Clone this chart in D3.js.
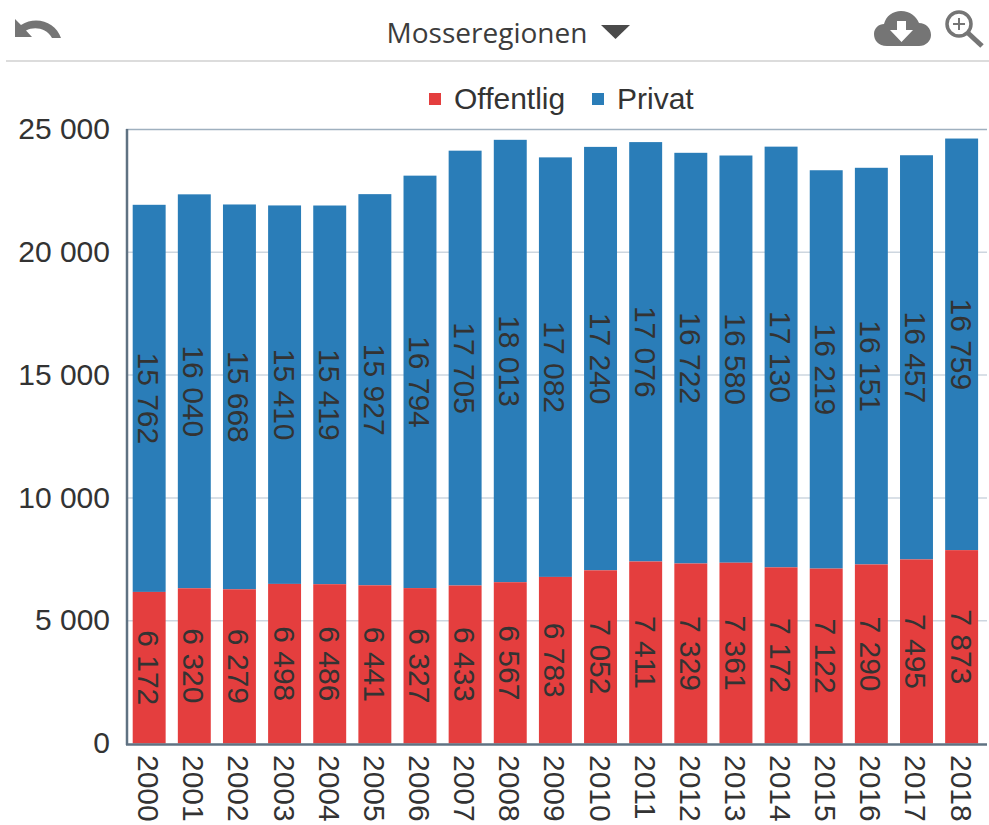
<!DOCTYPE html>
<html><head><meta charset="utf-8">
<script src="https://cdn.jsdelivr.net/npm/d3@7"></script>
<style>html,body{margin:0;padding:0;background:#fff}svg{display:block}text{font-family:"Liberation Sans",Arial,sans-serif}</style>
</head><body><div id="c"></div>
<script>
const years=["2000","2001","2002","2003","2004","2005","2006","2007","2008","2009","2010","2011","2012","2013","2014","2015","2016","2017","2018"];
const offentlig=[6172,6320,6279,6498,6486,6441,6327,6433,6567,6783,7052,7411,7329,7361,7172,7122,7290,7495,7873];
const privat=[15762,16040,15668,15410,15419,15927,16794,17705,18013,17082,17240,17076,16722,16580,17130,16219,16151,16457,16759];
const yTicks=[0,5000,10000,15000,20000,25000];
const title="Mosseregionen";
const seriesNames=["Offentlig","Privat"];
const seriesColors=["#e43e3e","#2a7db8"];

const W=989,H=825,ink="#333333";
const svg=d3.select("#c").append("svg").attr("width",W).attr("height",H);
const x=d3.scaleBand().domain(years).range([126.6,984.2]).paddingInner(0.27).paddingOuter(0.135);
const y=d3.scaleLinear().domain([0,25000]).range([743.5,129.5]);
const fmt=v=>d3.format(",")(v).replace(/,/g," ");

// toolbar
svg.append("path").attr("fill","#757575").attr("transform","translate(15,17)")
 .attr("d","M0 2 L0 20 L17 20 L11 13.5 C19 9.5 31 10.5 37 21 L46 21 C41 6 22 -2 6 8 Z");
svg.append("text").attr("x",487).attr("y",43).attr("text-anchor","middle")
 .attr("font-size",28).attr("fill","#3c3c3c").style("font-family","'Open Sans',sans-serif").text(title);
svg.append("path").attr("fill","#4a4a4a").attr("d","M601 25 L630 25 L615.5 39 Z");
// cloud download
svg.append("path").attr("fill","#757575")
 .attr("d","M887 46 C878 46 874 40 874 34 C874 28 879 24 884 24 C886 16 893 11 901 11 C910 11 916 16 919 23 C926 23 931 28 931 35 C931 41 926 46 919 46 Z");
svg.append("path").attr("fill","#fff").attr("d","M897 21 L906 21 L906 30 L913 30 L901.5 42 L890 30 L897 30 Z");
// zoom
const g=svg.append("g").attr("fill","none").attr("stroke","#757575");
g.append("circle").attr("cx",959).attr("cy",24).attr("r",12).attr("stroke-width",3.5);
g.append("line").attr("x1",968).attr("y1",33).attr("x2",982).attr("y2",46).attr("stroke-width",5);
g.append("path").attr("stroke-width",2).attr("d","M953 24 H965 M959 18 V30");
svg.append("rect").attr("x",6).attr("y",60).attr("width",983).attr("height",2).attr("fill","#dcdcdc");

// legend
svg.append("rect").attr("x",429).attr("y",93).attr("width",12).attr("height",12).attr("fill",seriesColors[0]);
svg.append("text").attr("x",454).attr("y",109).attr("font-size",30).attr("fill",ink).text(seriesNames[0]);
svg.append("rect").attr("x",592).attr("y",93).attr("width",12).attr("height",12).attr("fill",seriesColors[1]);
svg.append("text").attr("x",617).attr("y",109).attr("font-size",30).attr("fill",ink).text(seriesNames[1]);

// grid and y axis
const ya=svg.append("g").attr("transform","translate(126,-1)")
 .call(d3.axisLeft(y).tickValues(yTicks).tickFormat(fmt).tickSize(0).tickPadding(16));
ya.select(".domain").remove();
ya.selectAll("text").attr("font-size",30).attr("fill",ink).style("font-family","'Liberation Sans',Arial,sans-serif").attr("dy","0.34em");
svg.append("g").selectAll("line").data(yTicks.filter(d=>d>0)).join("line")
 .attr("x1",126).attr("x2",987).attr("y1",d=>y(d)).attr("y2",d=>y(d))
 .attr("stroke",d=>d===25000?"#9fb0bf":"#cdd6df").attr("stroke-width",1.5);

// bars
const rows=years.map((yr,i)=>({yr,o:offentlig[i],p:privat[i]}));
const bars=svg.append("g");
bars.selectAll(".p").data(rows).join("rect").attr("class","p").attr("x",d=>x(d.yr)).attr("width",x.bandwidth())
 .attr("y",d=>y(d.o+d.p)).attr("height",d=>y(d.o)-y(d.o+d.p)).attr("fill",seriesColors[1]);
bars.selectAll(".o").data(rows).join("rect").attr("class","o").attr("x",d=>x(d.yr)).attr("width",x.bandwidth())
 .attr("y",d=>y(d.o)).attr("height",d=>y(0)-y(d.o)).attr("fill",seriesColors[0]);

// data labels
function vlabel(sel,fx,fy,anchor){
 sel.attr("transform",d=>`translate(${fx(d)},${fy(d)}) rotate(90)`)
  .attr("text-anchor",anchor).attr("dy","0.35em").attr("font-size",30).attr("fill",ink);
}
const cx=d=>x(d.yr)+x.bandwidth()/2-0.5;
svg.append("g").selectAll("text").data(rows).join("text").text(d=>fmt(d.o))
 .call(vlabel,cx,d=>(y(d.o)+y(0))/2,"middle");
svg.append("g").selectAll("text").data(rows).join("text").text(d=>fmt(d.p))
 .call(vlabel,cx,d=>(y(d.o+d.p)+y(d.o))/2,"middle");

// axis lines
svg.append("line").attr("x1",127).attr("x2",127).attr("y1",129).attr("y2",745).attr("stroke","#5f7282").attr("stroke-width",2.5);
svg.append("line").attr("x1",126).attr("x2",987).attr("y1",744.5).attr("y2",744.5).attr("stroke","#5f7282").attr("stroke-width",2.5);

// x labels
svg.append("g").selectAll("text").data(rows).join("text").text(d=>d.yr)
 .call(vlabel,cx,()=>755,"start");
</script></body></html>
